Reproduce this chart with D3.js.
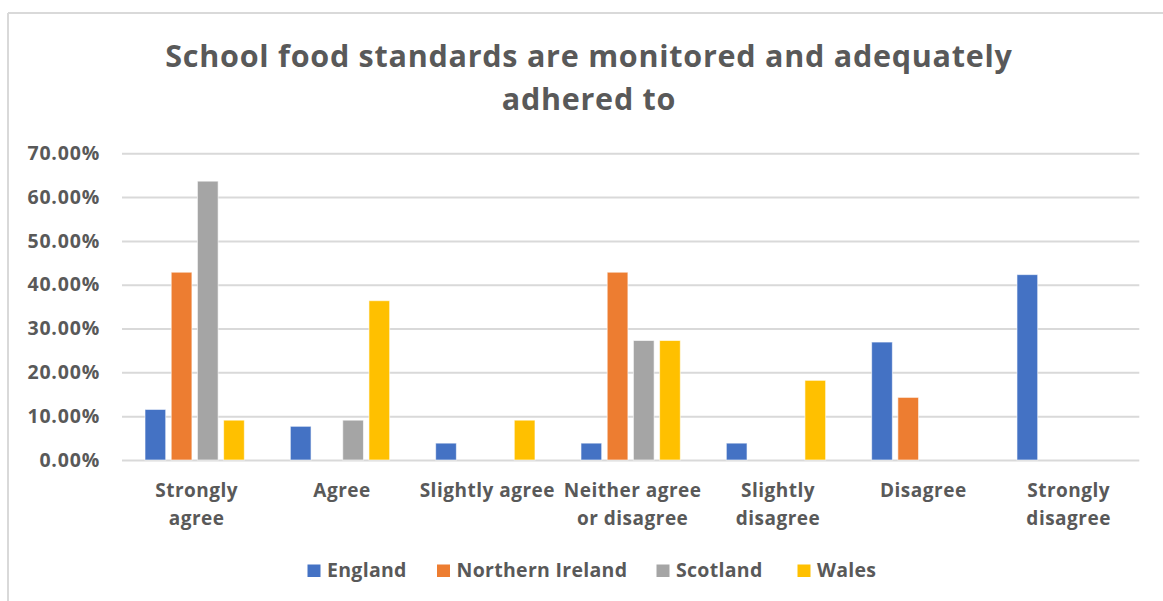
<!DOCTYPE html>
<html>
<head>
<meta charset="utf-8">
<script src="https://cdn.jsdelivr.net/npm/d3@7"></script>
<style>
  html, body { margin: 0; padding: 0; background: #fff; }
  svg { display: block; font-family: "Open Sans", Lato, "Liberation Sans", sans-serif; }
  text { fill: #595959; font-weight: bold; }
</style>
</head>
<body>
<svg id="chart" width="1163" height="601"></svg>
<script>
// Survey responses, share of respondents per nation
const categories = ["Strongly agree", "Agree", "Slightly agree", "Neither agree or disagree",
                    "Slightly disagree", "Disagree", "Strongly disagree"];
const categoryLines = [["Strongly", "agree"], ["Agree"], ["Slightly agree"], ["Neither agree", "or disagree"],
                       ["Slightly", "disagree"], ["Disagree"], ["Strongly", "disagree"]];
const seriesNames = ["England", "Northern Ireland", "Scotland", "Wales"];
const seriesColors = ["#4472C4", "#ED7D31", "#A5A5A5", "#FFC000"];
const england        = [0.1154, 0.0769, 0.0385, 0.0385, 0.0385, 0.2692, 0.4231];
const northernIreland = [0.4286, 0, 0, 0.4286, 0, 0.1429, 0];
const scotland       = [0.6364, 0.0909, 0, 0.2727, 0, 0, 0];
const wales          = [0.0909, 0.3636, 0.0909, 0.2727, 0.1818, 0, 0];
const yTicks = [0, 0.1, 0.2, 0.3, 0.4, 0.5, 0.6, 0.7];
const titleLines = ["School food standards are monitored and adequately", "adhered to"];

const seriesValues = [england, northernIreland, scotland, wales];

const svg = d3.select("#chart");
const W = 1163, H = 601;
const plot = { left: 122, right: 1139.3, top: 153.3, bottom: 460 };
const FONT = "'Open Sans', Lato, sans-serif";

// chart area frame (top and left edges visible)
svg.append("line").attr("x1", 8).attr("x2", W).attr("y1", 13).attr("y2", 13)
  .attr("stroke", "#d9d9d9").attr("stroke-width", 2);
svg.append("line").attr("x1", 8).attr("x2", 8).attr("y1", 13).attr("y2", H)
  .attr("stroke", "#d9d9d9").attr("stroke-width", 2);

// title
svg.append("g").selectAll("text").data(titleLines).join("text")
  .attr("x", 589).attr("y", (d, i) => 66.7 + i * 43)
  .attr("text-anchor", "middle")
  .style("font-size", "30.5px").style("letter-spacing", "0.75px")
  .text(d => d);

const x0 = d3.scaleBand().domain(categories).range([plot.left, plot.right]).padding(0);
const x1 = d3.scaleBand().domain(seriesNames).range([0, x0.bandwidth()])
  .paddingInner(0.21).paddingOuter(0.878);
const y = d3.scaleLinear().domain([0, 0.7]).range([plot.bottom, plot.top]);

// y axis with gridlines
const yAxis = svg.append("g").attr("transform", `translate(${plot.left},0)`)
  .call(d3.axisLeft(y).tickValues(yTicks).tickFormat(d3.format(".2%"))
    .tickSize(-(plot.right - plot.left)).tickPadding(22));
yAxis.select(".domain").remove();
yAxis.selectAll(".tick line").attr("stroke", "#d9d9d9").attr("stroke-width", 2);
yAxis.selectAll(".tick text").style("font-size", "19.5px").attr("fill", "#595959")
  .style("font-family", FONT).style("letter-spacing", "0.8px");

// bars
const bars = [];
seriesNames.forEach((s, si) => {
  categories.forEach((c, ci) => {
    bars.push({ series: s, cat: c, value: seriesValues[si][ci], color: seriesColors[si] });
  });
});
svg.append("g").selectAll("rect").data(bars.filter(d => d.value > 0)).join("rect")
  .attr("x", d => x0(d.cat) + x1(d.series))
  .attr("width", x1.bandwidth())
  .attr("y", d => y(d.value))
  .attr("height", d => y(0) - y(d.value))
  .attr("fill", d => d.color)
  .attr("stroke", "#fff").attr("stroke-opacity", 0.6).attr("stroke-width", 1);

// category axis labels
const xAxis = svg.append("g").attr("transform", `translate(0,${plot.bottom})`)
  .call(d3.axisBottom(x0).tickSize(0).tickPadding(0));
xAxis.select(".domain").remove();
xAxis.selectAll(".tick text").each(function(d, i) {
  const t = d3.select(this);
  t.text(null).attr("y", 0).attr("dy", null)
    .style("font-size", "19px").style("font-family", FONT).style("letter-spacing", "0.5px")
    .attr("fill", "#595959");
  categoryLines[i].forEach((line, li) => {
    t.append("tspan").attr("x", 2).attr("y", 37.3 + li * 28).text(line);
  });
});

// legend
const legendX = [307.5, 437, 656.5, 797.5];
const legend = svg.append("g").selectAll("g").data(seriesNames).join("g")
  .attr("transform", (d, i) => `translate(${legendX[i]},0)`);
legend.append("rect").attr("x", 0).attr("y", 564.5).attr("width", 13).attr("height", 12.5)
  .attr("fill", (d, i) => seriesColors[i]);
legend.append("text").attr("x", 19.5).attr("y", 577.3)
  .style("font-size", "19.5px").style("letter-spacing", "0.3px").text(d => d);
</script>
</body>
</html>
